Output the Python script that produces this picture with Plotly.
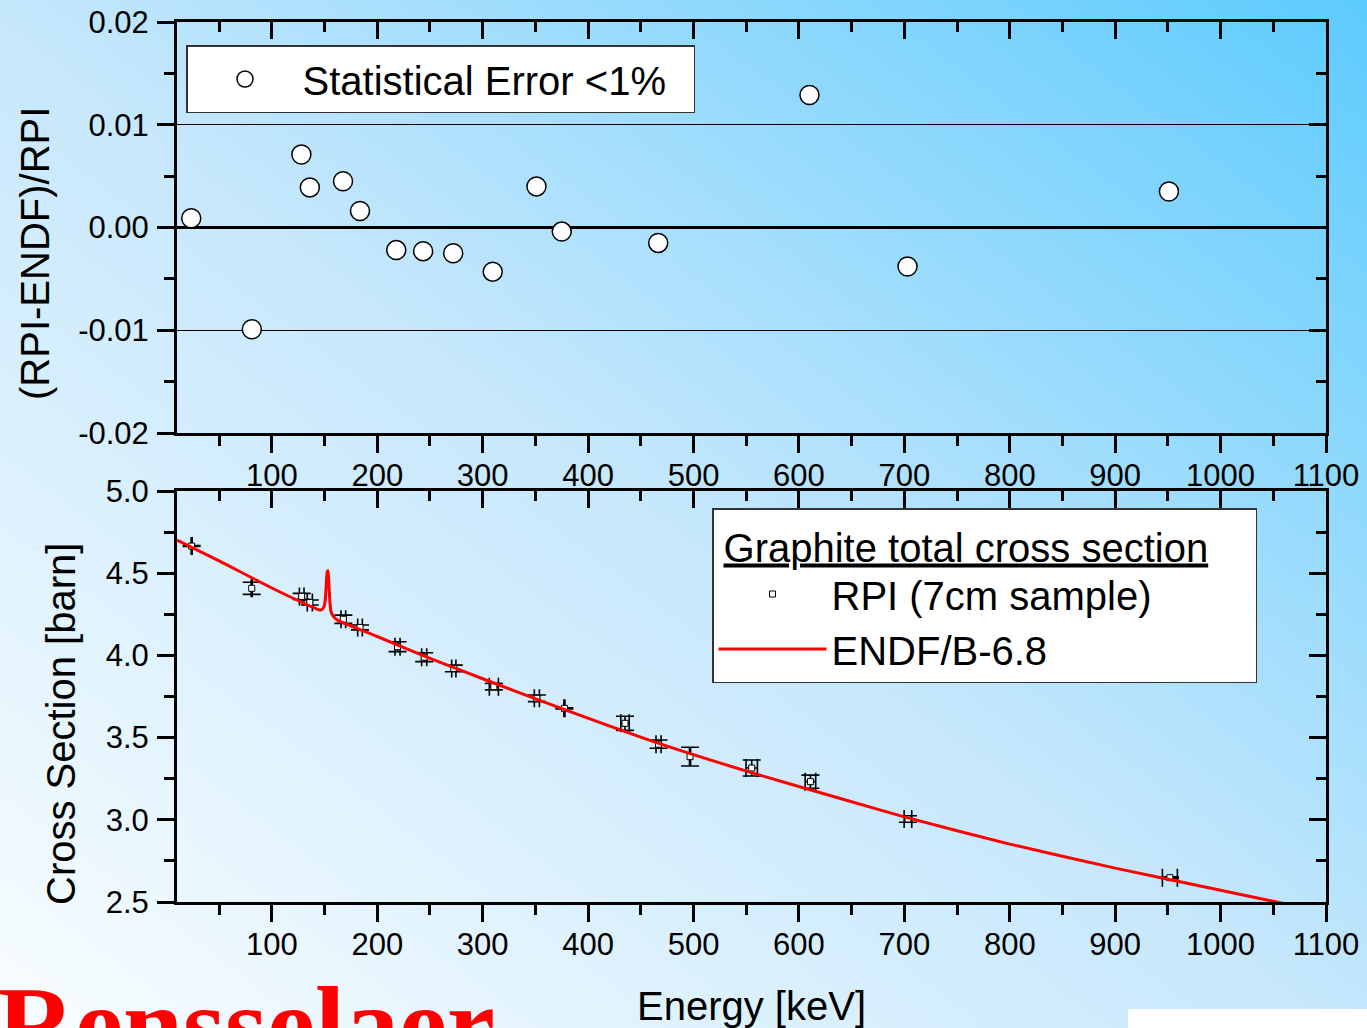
import base64
import plotly.graph_objects as go

# ---------------- data ----------------
# top panel: relative difference (RPI-ENDF)/RPI
E_ratio = [23.5, 81, 128, 136, 167.5, 183.6, 218, 243.5, 272, 309.5, 351, 375, 466.5, 610, 703, 951]
ratio = [0.0009, -0.0099, 0.0071, 0.0039, 0.0045, 0.0016, -0.0022, -0.0023, -0.0025,
         -0.0043, 0.0040, -0.0004, -0.0015, 0.0129, -0.0038, 0.0035]

# bottom panel: RPI measurement (7 cm sample)
E_rpi = [23.9, 80.9, 128.3, 136.0, 167.8, 183.6, 219.2, 244.5, 272.6, 310.6, 351.4, 377.5,
         435.0, 466.8, 496.7, 555.2, 610.9, 703.4, 951.9]
sigma_rpi = [4.665, 4.408, 4.359, 4.322, 4.220, 4.170, 4.053, 3.989, 3.921, 3.810, 3.739, 3.678,
             3.587, 3.460, 3.384, 3.315, 3.232, 3.005, 2.648]
E_err = [0.5, 0.5, 2.2, 2.4, 2.2, 2.2, 2.4, 2.4, 2.0, 4.3, 2.4, 0.5, 4.0, 2.4, 0.5, 5.4, 5.0, 3.6, 7.1]
sigma_err = [0.003, 0.037, 0.018, 0.015, 0.025, 0.015, 0.030, 0.027, 0.020, 0.020, 0.020, 0.003,
             0.043, 0.025, 0.057, 0.049, 0.040, 0.020, 0.005]

# bottom panel: ENDF/B-6.8 evaluation
E_endf = [10, 50, 100, 140, 146, 149, 150.5, 151.5, 152.5, 153.2, 154, 155, 156, 158, 162,
          200, 250, 300, 365, 460, 555, 650, 700, 800, 900, 1000, 1056, 1100]
sigma_endf = [4.702, 4.575, 4.410, 4.290, 4.276, 4.290, 4.330, 4.420, 4.510, 4.515, 4.450, 4.330,
              4.270, 4.240, 4.215, 4.115, 3.982, 3.858, 3.700, 3.480, 3.287, 3.110, 3.018, 2.852,
              2.706, 2.572, 2.496, 2.438]

ratio_tickvals = [-0.02, -0.01, 0.0, 0.01, 0.02]
ratio_ticktext = ["-0.02", "-0.01", "0.00", "0.01", "0.02"]
xs_tickvals = [2.5, 3.0, 3.5, 4.0, 4.5, 5.0]
xs_ticktext = ["2.5", "3.0", "3.5", "4.0", "4.5", "5.0"]
energy_tickvals = [100, 200, 300, 400, 500, 600, 700, 800, 900, 1000, 1100]
energy_ticktext = [str(v) for v in energy_tickvals]

# ---------------- layout geometry ----------------
W, H = 1367, 1028
FONT = "Liberation Sans, Arial, sans-serif"
xdom = [177 / W, 1326 / W]
ydom_top = [1 - 433 / H, 1 - 22 / H]
ydom_bot = [1 - 902 / H, 1 - 491 / H]
XR = [10, 1100]
YR_TOP = [-0.02, 0.02]
YR_BOT = [2.5, 5.0]
NBSP = "\u00a0"

fig = go.Figure()

# top panel markers
fig.add_trace(go.Scatter(
    x=E_ratio, y=ratio, mode="markers", name="Statistical Error <1%" + NBSP * 2,
    marker=dict(symbol="circle", size=19, color="white", line=dict(color="black", width=1.5)),
    xaxis="x", yaxis="y", legend="legend", hoverinfo="skip"))

# bottom panel
fig.add_trace(go.Scatter(
    x=E_rpi, y=sigma_rpi, mode="markers", name="RPI (7cm sample)",
    marker=dict(symbol="square", size=6, color="white", line=dict(color="black", width=1)),
    error_x=dict(type="data", array=E_err, visible=True, color="black", thickness=1.6, width=9),
    error_y=dict(type="data", array=sigma_err, visible=True, color="black", thickness=1.6, width=9),
    xaxis="x2", yaxis="y2", legend="legend2", hoverinfo="skip"))
fig.add_trace(go.Scatter(
    x=E_endf, y=sigma_endf, mode="lines", name="ENDF/B-6.8",
    line=dict(color="#ff0000", width=3, shape="spline", smoothing=0.6),
    xaxis="x2", yaxis="y2", legend="legend2", hoverinfo="skip"))

# dummy traces so that the mirrored (inside-tick) axes get drawn
for xa, ya in [("x3", "y"), ("x", "y3"), ("x4", "y2"), ("x2", "y4")]:
    fig.add_trace(go.Scatter(x=[None], y=[None], xaxis=xa, yaxis=ya, showlegend=False,
                             hoverinfo="skip", mode="markers"))

tickfont = dict(family=FONT, size=31, color="black")

def xmain(anchor):
    return dict(domain=xdom, anchor=anchor, range=XR, tickmode="array",
                tickvals=energy_tickvals, ticktext=energy_ticktext,
                ticks="outside", ticklen=17, tickwidth=3, tickcolor="black",
                minor=dict(ticks="outside", ticklen=10, tickwidth=3, tickcolor="black", dtick=50, tick0=0),
                showline=True, linewidth=3, linecolor="black", showgrid=False, zeroline=False,
                tickfont=tickfont, ticklabelstandoff=-4, automargin=False)

def xmirror(overlay, anchor):
    return dict(overlaying=overlay, anchor=anchor, side="top", range=XR, tickmode="linear",
                dtick=100, tick0=0, ticks="inside", ticklen=17, tickwidth=3, tickcolor="black",
                minor=dict(ticks="inside", ticklen=10, tickwidth=3, tickcolor="black", dtick=50, tick0=0),
                showline=True, linewidth=3, linecolor="black", showgrid=False, zeroline=False,
                showticklabels=False, automargin=False)

def ymirror(overlay, anchor, rng, dtick, mdtick, tick0):
    return dict(overlaying=overlay, anchor=anchor, side="right", range=rng, tickmode="linear",
                dtick=dtick, tick0=tick0, ticks="inside", ticklen=17, tickwidth=3, tickcolor="black",
                minor=dict(ticks="inside", ticklen=10, tickwidth=3, tickcolor="black", dtick=mdtick, tick0=tick0),
                showline=True, linewidth=3, linecolor="black", showgrid=False, zeroline=False,
                showticklabels=False, automargin=False)

# background gradient (slide background)
svg = ('<svg xmlns="http://www.w3.org/2000/svg" width="1367" height="1028" viewBox="0 0 1367 1028" '
       'preserveAspectRatio="none"><defs><linearGradient id="g" x1="0" y1="1" x2="1" y2="0">'
       '<stop offset="0" stop-color="#f9fdff"/><stop offset="0.5" stop-color="#c5e7fc"/>'
       '<stop offset="1" stop-color="#5ccbfd"/></linearGradient></defs>'
       '<rect width="1367" height="1028" fill="url(#g)"/></svg>')
bg_uri = "data:image/svg+xml;base64," + base64.b64encode(svg.encode()).decode()

fig.update_layout(
    width=W, height=H, autosize=False,
    margin=dict(l=0, r=0, t=0, b=0, pad=0),
    paper_bgcolor="white", plot_bgcolor="rgba(0,0,0,0)",
    font=dict(family=FONT, color="black"),
    hovermode=False,
    images=[dict(source=bg_uri, xref="paper", yref="paper", x=0, y=1, sizex=1, sizey=1,
                 xanchor="left", yanchor="top", sizing="stretch", layer="below")],
    xaxis=xmain("y"),
    yaxis=dict(domain=ydom_top, anchor="x", range=YR_TOP, tickmode="array",
               tickvals=ratio_tickvals, ticktext=ratio_ticktext,
               ticks="outside", ticklen=17, tickwidth=3, tickcolor="black",
               minor=dict(ticks="outside", ticklen=10, tickwidth=3, tickcolor="black", dtick=0.005, tick0=0),
               showline=True, linewidth=3, linecolor="black",
               showgrid=True, gridcolor="black", gridwidth=1,
               zeroline=True, zerolinecolor="black", zerolinewidth=3,
               tickfont=tickfont, ticklabelstandoff=2, automargin=False),
    xaxis2=xmain("y2"),
    yaxis2=dict(domain=ydom_bot, anchor="x2", range=YR_BOT, tickmode="array",
                tickvals=xs_tickvals, ticktext=xs_ticktext,
                ticks="outside", ticklen=17, tickwidth=3, tickcolor="black",
                minor=dict(ticks="outside", ticklen=10, tickwidth=3, tickcolor="black", dtick=0.25, tick0=0),
                showline=True, linewidth=3, linecolor="black", showgrid=False, zeroline=False,
                tickfont=tickfont, ticklabelstandoff=2, automargin=False),
    xaxis3=xmirror("x", "y"),
    yaxis3=ymirror("y", "x", YR_TOP, 0.01, 0.005, 0),
    xaxis4=xmirror("x2", "y2"),
    yaxis4=ymirror("y2", "x2", YR_BOT, 0.5, 0.25, 0),
    legend=dict(x=186 / W, y=1 - 45 / H, xanchor="left", yanchor="top", bgcolor="white",
                bordercolor="#333333", borderwidth=1.5, itemwidth=105,
                font=dict(family=FONT, size=40, color="black")),
    legend2=dict(x=712 / W, y=1 - 508 / H, xanchor="left", yanchor="top", bgcolor="white",
                 bordercolor="#333333", borderwidth=1.5, itemwidth=108,
                 title=dict(text="\u2009<u>Graphite total cross section</u>" + NBSP * 4,
                            font=dict(family=FONT, size=40, color="black")),
                 font=dict(family=FONT, size=40, color="black")),
    shapes=[dict(type="rect", xref="paper", yref="paper", x0=1128 / W, x1=1, y0=0, y1=1 - 1009 / H,
                 fillcolor="white", line=dict(width=0), layer="above")],
    annotations=[
        dict(text="(RPI-ENDF)/RPI", xref="paper", yref="paper", x=35 / W, y=1 - 254 / H,
             xanchor="center", yanchor="middle", textangle=-90, showarrow=False,
             font=dict(family=FONT, size=40, color="black")),
        dict(text="Cross Section [barn]", xref="paper", yref="paper", x=61 / W, y=1 - 724 / H,
             xanchor="center", yanchor="middle", textangle=-90, showarrow=False,
             font=dict(family=FONT, size=40, color="black")),
        dict(text="Energy [keV]", xref="paper", yref="paper", x=751 / W, y=1 - 982 / H,
             xanchor="center", yanchor="top", showarrow=False,
             font=dict(family=FONT, size=40, color="black")),
        dict(text="<b>Rensselaer</b>", xref="paper", yref="paper", x=-5 / W, y=1 - 963 / H,
             xanchor="left", yanchor="top", showarrow=False,
             font=dict(family="Liberation Serif, Times New Roman, serif", size=108, color="#ff0000")),
    ],
)

fig.write_html("out.html")
